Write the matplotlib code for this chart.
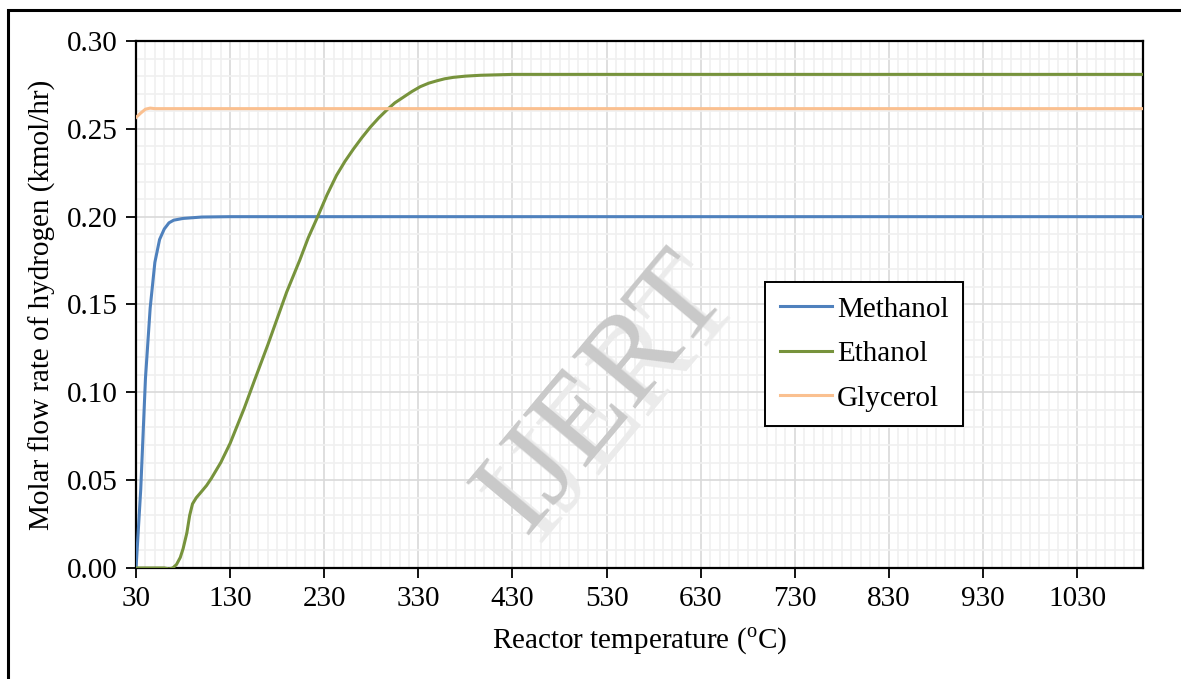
import matplotlib
matplotlib.use("Agg")
import matplotlib.pyplot as plt
from matplotlib.patches import Rectangle
from matplotlib.ticker import MultipleLocator, FormatStrFormatter

plt.rcParams['font.family'] = ['Liberation Serif', 'DejaVu Serif']
plt.rcParams['mathtext.fontset'] = 'custom'
plt.rcParams['mathtext.rm'] = 'Liberation Serif'

# methanol
temp_meoh = [30, 35, 40, 45, 50, 55, 60, 65, 70, 80, 100, 130, 200, 400, 700, 1100]
h2_meoh = [0.0, 0.045, 0.108, 0.148, 0.174, 0.187, 0.193, 0.1965, 0.198, 0.199, 0.1998, 0.2,
           0.2, 0.2, 0.2, 0.2]

# ethanol
temp_etoh = [30, 50, 60, 65, 69, 73, 77, 80, 84, 87, 90, 94, 98, 105, 110, 120, 130, 145, 156,
             170, 180, 190, 204, 213, 223, 233, 243, 252, 261, 270, 279, 288, 297, 305, 314,
             323, 332, 341, 350, 358, 367, 380, 396, 430, 600, 1100]
h2_etoh = [0.0, 0.0, 0.0, -0.0005, 0.0, 0.002, 0.006, 0.011, 0.020, 0.030, 0.0365, 0.040, 0.0425,
           0.047, 0.051, 0.060, 0.071, 0.091, 0.107, 0.127, 0.142, 0.157, 0.1753, 0.188, 0.2,
           0.2125, 0.2235, 0.2315, 0.2385, 0.245, 0.251, 0.2563, 0.261, 0.2648, 0.268, 0.2712,
           0.274, 0.276, 0.2774, 0.2785, 0.2793, 0.2800, 0.2805, 0.281, 0.281, 0.281]

# glycerol
temp_gly = [30, 35, 40, 45, 50, 60, 200, 600, 1100]
h2_gly = [0.2565, 0.259, 0.2612, 0.2618, 0.2615, 0.2615, 0.2615, 0.2615, 0.2615]

fig = plt.figure(figsize=(11.81, 6.79), dpi=100)
ax = fig.add_axes([0.1152, 0.1635, 0.8526, 0.7761])

ax.plot(temp_meoh, h2_meoh, color='#4F81BD', lw=2.2, label='Methanol', zorder=4)
ax.plot(temp_etoh, h2_etoh, color='#77933C', lw=2.2, label='Ethanol', zorder=4)
ax.plot(temp_gly, h2_gly, color='#FAC090', lw=2.2, label='Glycerol', zorder=4)

ax.set_xlim(30, 1100)
ax.set_ylim(0, 0.30)
ax.set_xticks(range(30, 1031, 100))
ax.yaxis.set_major_locator(MultipleLocator(0.05))
ax.yaxis.set_major_formatter(FormatStrFormatter('%.2f'))
ax.xaxis.set_minor_locator(MultipleLocator(10))
ax.yaxis.set_minor_locator(MultipleLocator(0.01))

ax.grid(which='minor', color='#F0F0F0', lw=1.2, zorder=0)
ax.grid(which='major', color='#D9D9D9', lw=1.2, zorder=1)
ax.set_axisbelow(True)

ax.tick_params(which='major', direction='out', length=7, width=1.3, labelsize=21, pad=6)
ax.tick_params(which='minor', length=0)
for s in ax.spines.values():
    s.set_linewidth(1.6)
    s.set_color('black')

ax.set_xlabel('Reactor temperature ($^{\\mathrm{o}}$C)', fontsize=21, labelpad=10)
ax.set_ylabel('Molar flow rate of hydrogen (kmol/hr)', fontsize=21, labelpad=8)

leg = ax.legend(loc='upper left', bbox_to_anchor=(0.6246, 0.5433), fontsize=21,
                frameon=True, fancybox=False, borderpad=0.5, handlelength=1.8,
                handletextpad=0.17, labelspacing=0.62, borderaxespad=0)
leg.get_frame().set_edgecolor('black')
leg.get_frame().set_linewidth(1.4)
leg.get_frame().set_alpha(1)

# watermark
fig.text(0.523, 0.408, 'IJERT', fontsize=90, color='#EBEBEB', rotation=50,
         ha='center', va='center', zorder=5)
fig.text(0.512, 0.42, 'IJERT', fontsize=90, color='#C9C9C9', rotation=50,
         ha='center', va='center', zorder=5)

# outer frame
fig.patches.append(Rectangle((0.0068, -0.1), 1.2, 1.0853, transform=fig.transFigure,
                             fill=False, lw=2.2, edgecolor='black'))

fig.savefig('out.png', dpi=100)
